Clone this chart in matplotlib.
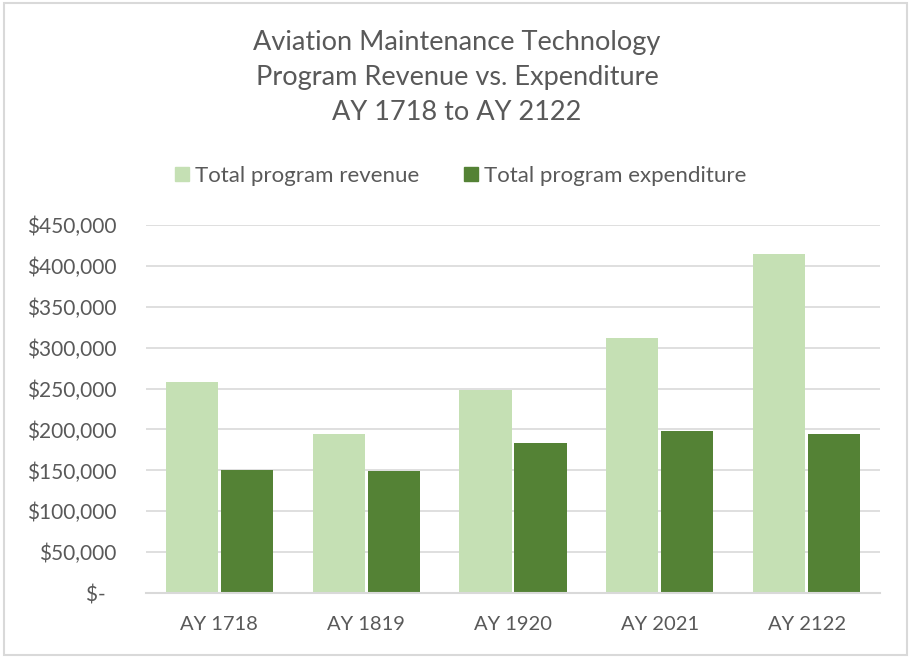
import matplotlib.pyplot as plt
import numpy as np
from matplotlib.patches import Rectangle
from matplotlib.lines import Line2D

# data
categories = ["AY 1718", "AY 1819", "AY 1920", "AY 2021", "AY 2122"]
revenue = [257600, 194500, 248500, 311600, 413800]
expenditure = [150900, 149700, 183500, 198100, 194500]
y_ticks = [0, 50000, 100000, 150000, 200000, 250000, 300000, 350000, 400000, 450000]

light_green = "#C5E0B4"
dark_green = "#548235"
text_grey = "#595959"
grid_grey = "#D9D9D9"

plt.rcParams['font.family'] = ['Lato', 'DejaVu Sans']

fig = plt.figure(figsize=(9.09, 6.57), dpi=100)
ax = fig.add_axes([146 / 909, 1 - 593.3 / 657, 734 / 909, 368.6 / 657])

x = np.arange(len(categories))
w = 0.355
ax.bar(x - 0.1875, revenue, width=w, color=light_green, zorder=3)
ax.bar(x + 0.1875, expenditure, width=w, color=dark_green, zorder=3)

ax.set_xlim(-0.5, len(categories) - 0.5)
ax.set_ylim(0, 450000)
ax.set_yticks(y_ticks)
ax.set_yticklabels(["$-  " if v == 0 else "${:,.0f}".format(v) for v in y_ticks])
ax.set_xticks(x)
ax.set_xticklabels(categories)
ax.tick_params(axis='both', length=0, colors=text_grey)
ax.tick_params(axis='y', pad=21, labelsize=15)
ax.tick_params(axis='x', pad=16, labelsize=14.5)

# gridlines
ax.yaxis.grid(True, color=grid_grey, linewidth=1.2, zorder=0)
ax.set_axisbelow(True)
for s in ['top', 'right', 'left']:
    ax.spines[s].set_visible(False)
ax.spines['bottom'].set_color(grid_grey)
ax.spines['bottom'].set_linewidth(1.5)
ax.spines['bottom'].set_zorder(4)

# title
fig.text(457 / 909, 1 - 77.5 / 657,
         "Aviation Maintenance Technology\nProgram Revenue vs. Expenditure\nAY 1718 to AY 2122",
         ha='center', va='center', fontsize=19.5, color=text_grey, linespacing=1.5)

# legend
handles = [Line2D([], [], marker='s', linestyle='none', markersize=9.5, color=light_green),
           Line2D([], [], marker='s', linestyle='none', markersize=9.5, color=dark_green)]
fig.legend(handles, ["Total program revenue", "Total program expenditure"],
           loc='center', bbox_to_anchor=(461 / 909, 1 - 176 / 657), ncol=2,
           frameon=False, fontsize=16, labelcolor=text_grey,
           handlelength=0.6, handletextpad=0.3, columnspacing=2.0)

# chart border
fig.patches.append(Rectangle((4 / 909, 2 / 657), 903 / 909, 652 / 657,
                             transform=fig.transFigure, fill=False,
                             edgecolor=grid_grey, linewidth=1.5))

plt.savefig("out.png", dpi=100)
